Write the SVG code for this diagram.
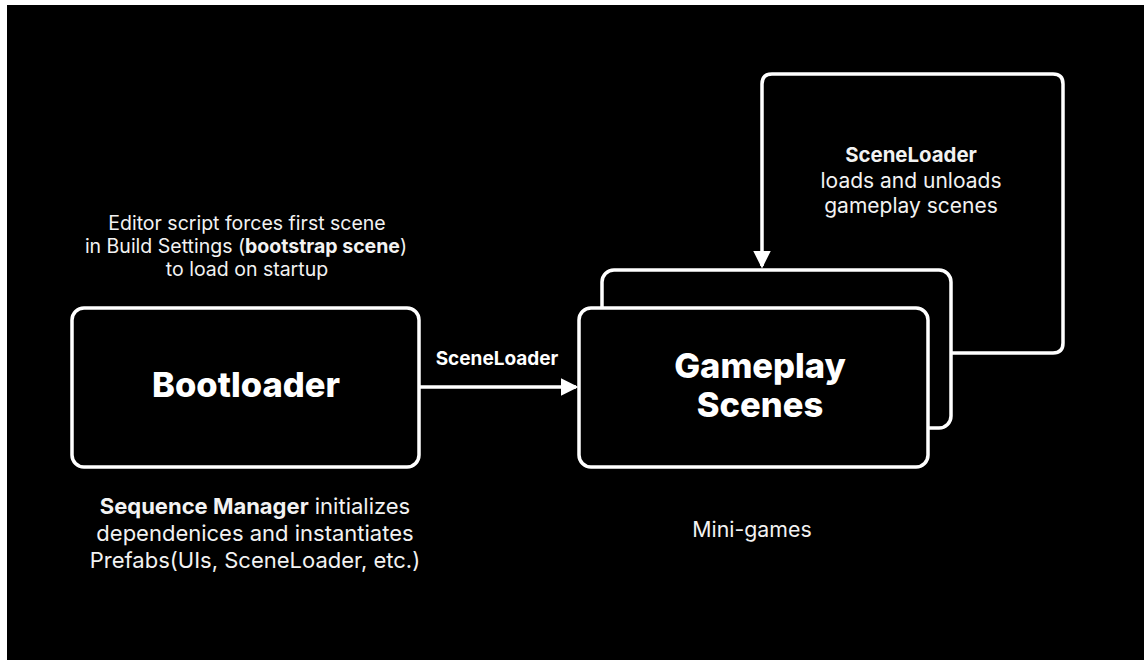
<svg xmlns="http://www.w3.org/2000/svg" width="1144" height="660" viewBox="0 0 1144 660">
<defs>
<style>
.box{fill:#000;stroke:#fff;stroke-width:3.5}
.line{fill:none;stroke:#fff;stroke-width:3.5}
.t{font-family:Inter,"Liberation Sans",sans-serif;fill:#fff;text-anchor:middle}
.note{fill:#f2f2f2}
.big{font-size:34.5px;font-weight:800}
.b{font-weight:700}
</style>
<marker id="ah" markerWidth="5" markerHeight="5" refX="4.3" refY="2.5" orient="auto" markerUnits="strokeWidth" viewBox="0 0 5 5">
<path d="M0,0 L5,2.5 L0,5 Z" fill="#fff"/>
</marker>
</defs>
<rect x="0" y="0" width="1144" height="660" fill="#fff"/>
<rect x="7" y="5" width="1137" height="655" fill="#000"/>

<g id="connectors">
<path class="line" d="M420,387 H576" marker-end="url(#ah)"/>
<path class="line" d="M951,353 H1053 Q1063,353 1063,343 V84 Q1063,74 1053,74 H772 Q762,74 762,84 V266" marker-end="url(#ah)"/>
</g>

<g id="note-top" font-size="19.5">
<text class="t note" x="247" y="230">Editor script forces first scene</text>
<text class="t note" x="246" y="253">in Build Settings (<tspan class="b">bootstrap scene</tspan>)</text>
<text class="t note" x="247" y="276">to load on startup</text>
</g>

<g id="bootloader">
<rect class="box" x="72" y="308" width="347" height="159" rx="12"/>
<text class="t big" x="246" y="397">Bootloader</text>
</g>

<g id="label-sceneloader">
<text class="t b" x="497" y="365" font-size="19">SceneLoader</text>
</g>

<g id="gameplay">
<rect class="box" x="602" y="270" width="349" height="158" rx="12"/>
<rect class="box" x="579" y="308" width="349" height="159" rx="12"/>
<text class="t big" x="760" y="378">Gameplay</text>
<text class="t big" x="760" y="417">Scenes</text>
</g>

<g id="note-loop" font-size="21">
<text class="t note b" x="911" y="162" font-size="20.4">SceneLoader</text>
<text class="t note" x="911" y="188">loads and unloads</text>
<text class="t note" x="911" y="213">gameplay scenes</text>
</g>

<g id="note-bottom" font-size="22">
<text class="t note" x="255" y="514"><tspan class="b">Sequence Manager</tspan> initializes</text>
<text class="t note" x="255" y="541">dependenices and instantiates</text>
<text class="t note" x="255" y="568">Prefabs(UIs, SceneLoader, etc.)</text>
</g>

<g id="note-minigames">
<text class="t note" x="752" y="537" font-size="21.3">Mini-games</text>
</g>
</svg>
